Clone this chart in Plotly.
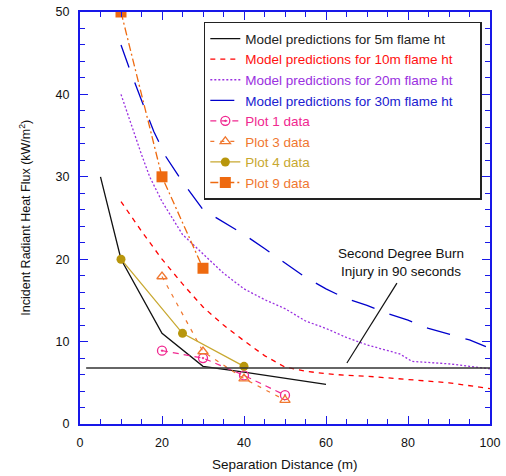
import plotly.graph_objects as go

# ---- data ----
x_5m = [5, 10, 20, 30, 40, 60]
y_5m = [30, 20, 11, 7, 6.3, 4.8]

x_10m = [10, 15, 20, 25, 30, 35, 40, 45, 50, 55, 60, 65, 70, 80, 90, 100]
y_10m = [27, 23.4, 20, 17, 14.2, 12, 10.1, 8.3, 6.9, 6.4, 6.1, 5.9, 5.8, 5.4, 5.0, 4.3]

x_20m = [10, 12, 15, 17, 20, 25, 30, 35, 40, 45, 50, 55, 60, 65, 70, 75, 78, 81, 85, 90, 95, 100]
y_20m = [40, 37, 32.7, 30, 27, 23, 20.6, 18.3, 16.4, 15.1, 14, 12.5, 11.6, 10.5, 9.6, 8.9, 8.5, 7.6, 7.5, 7.3, 7.0, 6.7]

x_30m = [10, 12, 15, 18, 21, 25, 30, 35, 40, 45, 50, 55, 60, 65, 70, 75, 80, 85, 90, 95, 99]
y_30m = [46, 43.2, 39.3, 35.5, 32.4, 29.4, 26.0, 24.5, 23.0, 21.3, 19.5, 17.8, 16.4, 15.2, 14.4, 13.4, 12.6, 11.6, 10.9, 10.2, 9.4]

x_plot1 = [20, 30, 40, 50]
y_plot1 = [8.9, 8.0, 5.9, 3.5]

x_plot3 = [20, 30, 40, 50]
y_plot3 = [17.9, 8.8, 5.5, 2.9]

x_plot4 = [10, 25, 40]
y_plot4 = [20, 11, 7]

x_plot9 = [10, 20, 30]
y_plot9 = [50, 30, 18.9]

burn_x = [1.5, 100]
burn_y = [6.8, 6.8]
pointer_x = [65.1, 77.3]
pointer_y = [7.4, 17.1]
burn_label = "Second Degree Burn<br>Injury in 90 seconds"
burn_label_pos = (78.3, 19.6)

x_ticks = [0, 20, 40, 60, 80, 100]
y_ticks = [0, 10, 20, 30, 40, 50]

FONT = "Liberation Sans, Arial, sans-serif"
AXIS_BLUE = "#1818E8"


def lab(text, color):
    return f"<span style='color:{color}'>{text}</span>"


fig = go.Figure()

fig.add_trace(go.Scatter(x=x_5m, y=y_5m, mode="lines",
                         line=dict(color="#111111", width=1.3),
                         name=lab("Model predictions for 5m flame ht", "#222222")))
fig.add_trace(go.Scatter(x=x_10m, y=y_10m, mode="lines",
                         line=dict(color="#FF0000", width=1.3, dash="5px,5px"),
                         name=lab("Model predictions for 10m flame ht", "#FF1010")))
fig.add_trace(go.Scatter(x=x_20m, y=y_20m, mode="lines",
                         line=dict(color="#9A30E0", width=1.3, dash="2px,2px"),
                         name=lab("Model predictions for 20m flame ht", "#9A30E0")))
fig.add_trace(go.Scatter(x=x_30m, y=y_30m, mode="lines",
                         line=dict(color="#0000CC", width=1.3, dash="24px,16px"),
                         name=lab("Model predictions for 30m flame ht", "#2020D0")))
fig.add_trace(go.Scatter(x=x_plot1, y=y_plot1, mode="lines+markers",
                         line=dict(color="#F02890", width=1.2, dash="6px,5px"),
                         marker=dict(symbol="circle-open-dot", size=9, color="#F02890",
                                     line=dict(width=1.3, color="#F02890")),
                         name=lab("Plot 1 data", "#F02890")))
fig.add_trace(go.Scatter(x=x_plot3, y=y_plot3, mode="lines+markers",
                         line=dict(color="#F07830", width=1.2, dash="4px,6px"),
                         marker=dict(symbol="triangle-up-open", size=9, color="#F07830",
                                     line=dict(width=1.3, color="#F07830")),
                         name=lab("Plot 3 data", "#F07830")))
fig.add_trace(go.Scatter(x=x_plot4, y=y_plot4, mode="lines+markers",
                         line=dict(color="#C8A830", width=1.3),
                         marker=dict(symbol="circle", size=9, color="#B8960C"),
                         name=lab("Plot 4 data", "#C8A830")))
fig.add_trace(go.Scatter(x=x_plot9, y=y_plot9, mode="lines+markers",
                         line=dict(color="#EE6A10", width=1.3, dash="8px,3px,2px,3px"),
                         marker=dict(symbol="square", size=11, color="#EE6A10"),
                         name=lab("Plot 9 data", "#F07830")))

fig.add_trace(go.Scatter(x=burn_x, y=burn_y, mode="lines",
                         line=dict(color="#333333", width=1.5), showlegend=False))
fig.add_trace(go.Scatter(x=pointer_x, y=pointer_y, mode="lines",
                         line=dict(color="#111111", width=1.2), showlegend=False))

fig.add_annotation(x=burn_label_pos[0], y=burn_label_pos[1], text=burn_label,
                   showarrow=False, font=dict(size=13.5, color="#111111", family=FONT),
                   xanchor="center", yanchor="middle")

# y-axis title as rotated text
fig.add_annotation(xref="paper", yref="paper", x=-0.135, y=0.5,
                   text="Incident Radiant Heat Flux (kW/m<sup>2</sup>)", textangle=-90,
                   showarrow=False, font=dict(size=12.5, color="#111111", family=FONT),
                   xanchor="center", yanchor="middle")
# x-axis title
fig.add_annotation(xref="paper", yref="paper", x=0.5, y=-0.098,
                   text="Separation Distance (m)",
                   showarrow=False, font=dict(size=13.5, color="#111111", family=FONT),
                   xanchor="center", yanchor="middle")

axis_common = dict(showline=True, linecolor=AXIS_BLUE, linewidth=2, mirror="ticks",
                   ticks="inside", tickcolor=AXIS_BLUE, ticklen=8, tickwidth=1.3,
                   showgrid=False, zeroline=False, automargin=False,
                   ticklabeloverflow="allow",
                   tickfont=dict(size=12.5, color="#111111", family=FONT))

fig.update_xaxes(range=[0, 100], tickvals=x_ticks, ticklabelstandoff=6,
                 minor=dict(dtick=5, ticks="inside", ticklen=5, tickcolor=AXIS_BLUE),
                 **axis_common)
fig.update_yaxes(range=[0, 50], tickvals=y_ticks, ticklabelstandoff=6,
                 minor=dict(dtick=2, ticks="inside", ticklen=5, tickcolor=AXIS_BLUE),
                 **axis_common)

NB = "\u00a0" * 6
fig.data[1].name = fig.data[1].name + NB

fig.update_layout(
    width=506, height=476,
    margin=dict(l=80, r=16, t=12, b=52),
    paper_bgcolor="white", plot_bgcolor="white",
    font=dict(family=FONT, size=12, color="#111111"),
    legend=dict(x=0.302, y=0.976, xanchor="left", yanchor="top",
                bgcolor="white", bordercolor="#222222", borderwidth=1.5,
                font=dict(size=13.5, family=FONT)),
)

# remove the default 8px page margin so the figure sits at the window's top-left
fig.write_html("out.html",
               config={"displayModeBar": False},
               post_script="document.body.style.margin='0px';document.body.style.overflow='hidden';")
